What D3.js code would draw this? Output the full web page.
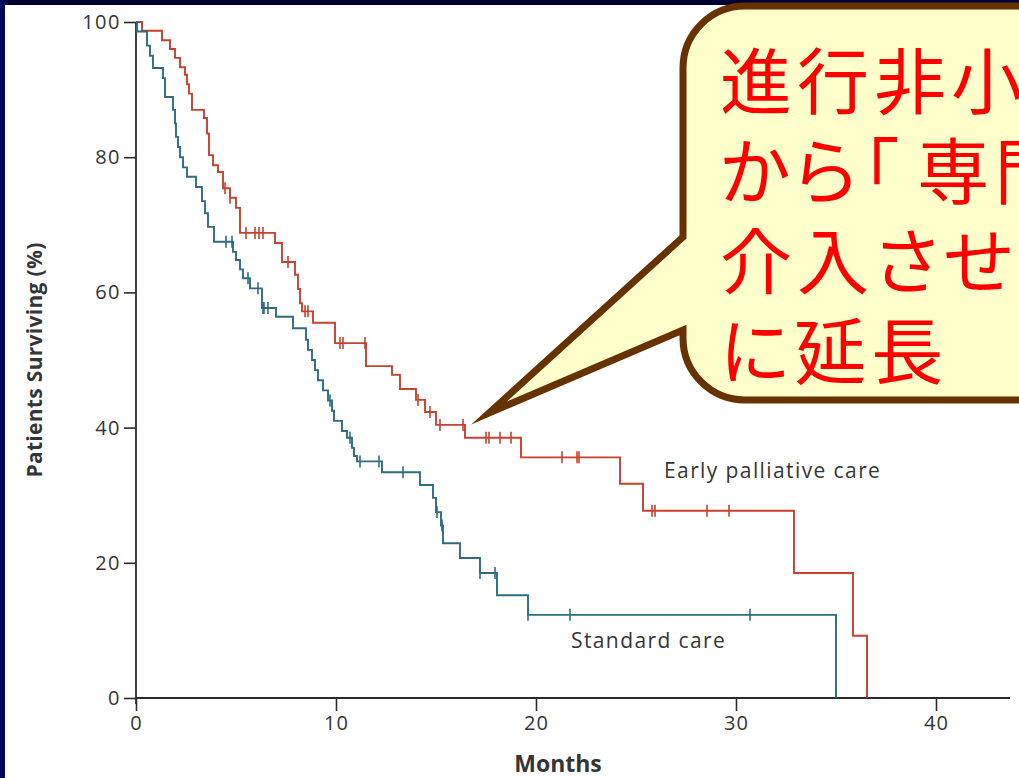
<!DOCTYPE html>
<html>
<head>
<meta charset="utf-8">
<script src="https://cdn.jsdelivr.net/npm/d3@7"></script>
<style>
  html, body { margin: 0; padding: 0; background: #ffffff; overflow: hidden; }
  svg { display: block; }
</style>
</head>
<body>
<svg id="chart" width="1019" height="778"></svg>
<script>
// Kaplan–Meier survival estimates (months, % surviving), step after each time
const earlyTimes = [0, 0.3, 1.3, 1.7, 1.95, 2.2, 2.45, 2.55, 2.65, 2.8, 3.4, 3.55, 3.65, 3.85, 4.1, 4.35, 4.7, 5.0, 5.2,
  6.95, 7.3, 7.95, 8.1, 8.2, 8.3, 8.85, 9.95, 11.5, 12.8, 13.2, 14.0, 14.45, 15.0, 16.45, 19.25, 24.2, 25.35, 32.9, 35.85, 36.55];
const earlySurvival = [100, 98.7, 97.3, 96, 94.7, 93.3, 92.2, 90.8, 89.4, 87, 85.8, 83.5, 80.3, 78.8, 77.8, 75.4, 74, 72.5, 68.8,
  67.3, 64.5, 62.6, 60.5, 58.4, 57.2, 55.5, 52.5, 49.1, 47.8, 45.7, 44.1, 42.3, 40.4, 38.5, 35.6, 31.7, 27.7, 18.5, 9.2, 0];
const earlyCensored = [4.45, 4.7, 5.5, 5.95, 6.15, 6.35, 7.6, 8.45, 8.6, 10.2, 10.35, 11.45, 14.1, 14.7, 15.2, 16.35,
  17.5, 17.65, 18.2, 18.75, 21.3, 22.05, 22.15, 25.8, 25.95, 28.55, 29.65];

const standardTimes = [0, 0.05, 0.55, 0.7, 0.85, 1.35, 1.45, 1.85, 1.95, 2.0, 2.1, 2.2, 2.35, 2.55, 3.0, 3.3, 3.45, 3.6, 3.9,
  4.85, 5.0, 5.2, 5.35, 5.7, 6.3, 7.0, 7.85, 8.5, 8.6, 8.8, 8.95, 9.1, 9.35, 9.6, 9.8, 9.9, 10.3, 10.55, 10.8, 10.9, 11.05,
  12.3, 14.2, 14.85, 15.0, 15.25, 15.35, 16.2, 17.2, 18.05, 19.6, 35.0];
const standardSurvival = [100, 98.6, 96.5, 95, 93.2, 91.7, 88.9, 87, 85, 83, 81.5, 80, 78.5, 77.1, 75.6, 73.5, 71.7, 69.7, 67.5,
  66, 64.8, 63.4, 62.1, 60.6, 57.7, 56.4, 54.7, 53, 51.5, 50, 48.5, 47, 45.5, 44, 42.5, 41, 39.5, 38.5, 37, 35.8, 35,
  33.4, 31.5, 29.6, 27.5, 25.5, 22.9, 20.7, 18.5, 15.2, 12.3, 0];
const standardCensored = [4.5, 4.8, 5.6, 6.1, 6.35, 6.4, 6.6, 9.7, 10.7, 11.2, 12.15, 13.35, 15.05, 15.3, 17.2, 17.95,
  19.6, 21.7, 30.7];

const xTicks = [0, 10, 20, 30, 40];
const yTicks = [0, 20, 40, 60, 80, 100];
const seriesNames = ["Early palliative care", "Standard care"];
const yTitle = "Patients Surviving (%)";
const xTitle = "Months";
const calloutLines = ["進行非小細", "から「専門", "介入させた", "に延長"];

const svg = d3.select("#chart");
const W = 1019, H = 778;

// dark frame around the slide
svg.append("rect").attr("x", 0).attr("y", 0).attr("width", W).attr("height", H).attr("fill", "#ffffff");
svg.append("rect").attr("x", 0).attr("y", 0).attr("width", W).attr("height", 5).attr("fill", "#000030");
svg.append("rect").attr("x", 0).attr("y", 0).attr("width", 5).attr("height", H).attr("fill", "#05055e");

const x = d3.scaleLinear().domain([0, 40]).range([136, 936]);
const y = d3.scaleLinear().domain([0, 100]).range([698, 22]);

const axisColor = "#2e2a2a";
const textColor = "#353535";
const labelFont = "'Open Sans', 'Noto Sans', sans-serif";

// y axis
const yAxis = svg.append("g").attr("transform", `translate(${x(0)},0)`)
  .call(d3.axisLeft(y).tickValues(yTicks).tickSize(12).tickPadding(3));
yAxis.select(".domain").remove();
yAxis.selectAll("line").attr("stroke", axisColor).attr("stroke-width", 1.6);
yAxis.selectAll("text").attr("fill", textColor).style("font-family", labelFont)
  .style("font-size", "20px").style("letter-spacing", "1.5px");

// x axis
const xAxis = svg.append("g").attr("transform", `translate(0,${y(0)})`)
  .call(d3.axisBottom(x).tickValues(xTicks).tickSize(13).tickPadding(5));
xAxis.select(".domain").remove();
xAxis.selectAll("line").attr("stroke", axisColor).attr("stroke-width", 1.6);
xAxis.selectAll("text").attr("fill", textColor).style("font-family", labelFont)
  .style("font-size", "20px").style("letter-spacing", "1px");

// axis lines
svg.append("line").attr("x1", x(0)).attr("x2", x(0)).attr("y1", y(100)).attr("y2", y(0) + 6)
  .attr("stroke", axisColor).attr("stroke-width", 1.8);
svg.append("line").attr("x1", x(0)).attr("x2", 1010).attr("y1", y(0)).attr("y2", y(0))
  .attr("stroke", axisColor).attr("stroke-width", 1.8);

// axis titles
svg.append("text").attr("transform", "translate(42,360) rotate(-90)")
  .attr("text-anchor", "middle").attr("fill", textColor)
  .style("font-family", labelFont).style("font-weight", "bold").style("font-size", "21px")
  .style("letter-spacing", "0.3px")
  .text(yTitle);
svg.append("text").attr("x", 558).attr("y", 772)
  .attr("text-anchor", "middle").attr("fill", textColor)
  .style("font-family", labelFont).style("font-weight", "bold").style("font-size", "23px")
  .text(xTitle);

// survival curves
const line = d3.line().curve(d3.curveStepAfter).x(d => x(d[0])).y(d => y(d[1]));
const series = [
  { times: earlyTimes, surv: earlySurvival, cens: earlyCensored, color: "#c8412e" },
  { times: standardTimes, surv: standardSurvival, cens: standardCensored, color: "#2d6c84" }
];

function survivalAt(s, t) {
  const i = d3.bisectRight(s.times, t) - 1;
  return s.surv[Math.max(0, i)];
}

series.forEach(s => {
  const pts = s.times.map((t, i) => [t, s.surv[i]]);
  svg.append("path").datum(pts).attr("d", line)
    .attr("fill", "none").attr("stroke", s.color).attr("stroke-width", 1.9)
    .attr("stroke-linejoin", "miter");
  svg.append("g").selectAll("line").data(s.cens).join("line")
    .attr("x1", d => x(d)).attr("x2", d => x(d))
    .attr("y1", d => y(survivalAt(s, d)) - 6).attr("y2", d => y(survivalAt(s, d)) + 6)
    .attr("stroke", s.color).attr("stroke-width", 1.6);
});

// curve labels
svg.append("text").attr("x", 664).attr("y", 478).attr("fill", textColor)
  .style("font-family", labelFont).style("font-size", "21px").style("letter-spacing", "1.4px")
  .text(seriesNames[0]);
svg.append("text").attr("x", 571).attr("y", 648).attr("fill", textColor)
  .style("font-family", labelFont).style("font-size", "21px").style("letter-spacing", "1.4px")
  .text(seriesNames[1]);

// speech-bubble callout
const bx = 683, by = 6, bb = 400, r = 62, br = 1060;
const tip = [489, 413];
const callout = d3.path();
callout.moveTo(br, by);
callout.lineTo(bx + r, by);
callout.arcTo(bx, by, bx, by + r, r);
callout.lineTo(bx, 237);
callout.lineTo(tip[0], tip[1]);
callout.lineTo(bx, 330);
callout.lineTo(bx, bb - r);
callout.arcTo(bx, bb, bx + r, bb, r);
callout.lineTo(br, bb);
callout.closePath();
svg.append("path").attr("d", callout.toString())
  .attr("fill", "#ffffcc").attr("stroke", "#663300").attr("stroke-width", 7)
  .attr("stroke-linejoin", "miter").attr("stroke-miterlimit", 20);

const callText = svg.append("text").attr("fill", "#ff0000")
  .style("font-family", "'Noto Sans CJK JP', sans-serif").style("font-size", "72px")
  .style("font-feature-settings", "'palt'").style("letter-spacing", "5px");
calloutLines.forEach((t, i) => {
  const k = t.indexOf("「");
  if (k >= 0) {
    callText.append("tspan").attr("x", 720).attr("y", 108 + i * 90).text(t.slice(0, k + 1));
    callText.append("tspan").attr("dx", 14).text(t.slice(k + 1));
  } else {
    callText.append("tspan").attr("x", 720).attr("y", 108 + i * 90).text(t);
  }
});
</script>
</body>
</html>
